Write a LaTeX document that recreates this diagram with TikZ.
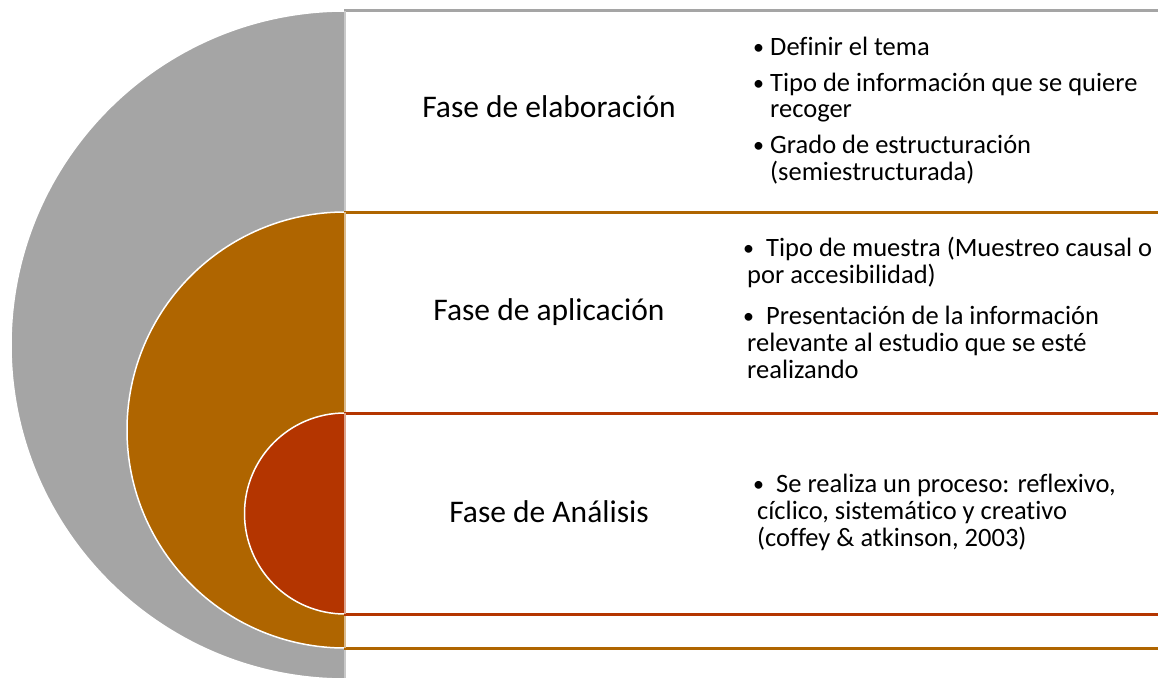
\documentclass[tikz,border=0pt]{standalone}
\usepackage{fontspec}
\setmainfont{Carlito}[RawFeature=-liga]

\definecolor{ringgray}{HTML}{A5A5A5}
\definecolor{ringorange}{HTML}{AF6500}
\definecolor{ringred}{HTML}{B43500}

\newcommand{\dotmark}{\raisebox{1pt}{\fontsize{22}{22}\selectfont •}}

\tikzset{
  ring/.style={draw=white, line width=1.5pt},
  rule/.style={line width=3pt},
  phase/.style={anchor=base, inner sep=0pt, font=\fontsize{31.5}{33}\selectfont},
  item/.style={anchor=base west, inner sep=0pt, font=\fontsize{26.5}{27}\selectfont},
}

\begin{document}
\begin{tikzpicture}[x=1pt,y=-1pt]
\useasboundingbox (0,0) rectangle (1158,677);
\clip (0,0) rectangle (1158,677);

% half discs
\begin{scope}
\clip (0,0) rectangle (344,677);
\filldraw[ring, fill=ringgray] (345,345) circle[radius=334pt];
\filldraw[ring, fill=ringorange] (345,430) circle[radius=218pt];
\filldraw[ring, fill=ringred] (345,513.5) circle[radius=100.5pt];
\end{scope}

% boxes
\draw[rule, ringgray] (344,11) -- (1160,11);
\draw[ringgray!60, line width=1.5pt] (345,11) -- (345,680);
\draw[rule, ringorange] (344,212) -- (1160,212);
\draw[rule, ringorange] (344,648) -- (1160,648);
\draw[ringorange!45, line width=1.5pt] (345,212) -- (345,648);
\draw[rule, ringred] (344,413) -- (1160,413);
\draw[rule, ringred] (344,614) -- (1160,614);
\draw[ringred!45, line width=1.5pt] (345,413) -- (345,614);

% phases
\node[phase] (elab) at (549,117) {Fase de elaboración};
\node[phase] (apli) at (549,320) {Fase de aplicación};
\node[phase] (anal) at (549,522) {Fase de Análisis};

% elaboracion
\node[item] (e1) at (753,56) {\makebox[17pt][l]{\dotmark}Definir el tema};
\node[item] (e2) at (753,91) {\makebox[17pt][l]{\dotmark}Tipo de información que se quiere};
\node[item] (e2b) at (770,117) {recoger};
\node[item] (e3) at (753,153) {\makebox[17pt][l]{\dotmark}Grado de estructuración};
\node[item] (e3b) at (770,180) {(semiestructurada)};

% aplicacion
\node[item] (a1) at (743,256) {\makebox[23pt][l]{\dotmark}Tipo de muestra (Muestreo causal o};
\node[item] (a1b) at (747,283) {por accesibilidad)};
\node[item] (a2) at (743,324) {\makebox[23pt][l]{\dotmark}Presentación de la información};
\node[item] (a2b) at (747,351) {relevante al estudio que se esté};
\node[item] (a2c) at (747,378) {realizando};

% analisis
\node[item] (n1) at (753,492) {\makebox[23pt][l]{\dotmark}Se realiza un proceso: reflexivo,};
\node[item] (n1b) at (757,519) {cíclico, sistemático y creativo};
\node[item] (n1c) at (757,546) {(coffey \& atkinson, 2003)};
\end{tikzpicture}
\end{document}
